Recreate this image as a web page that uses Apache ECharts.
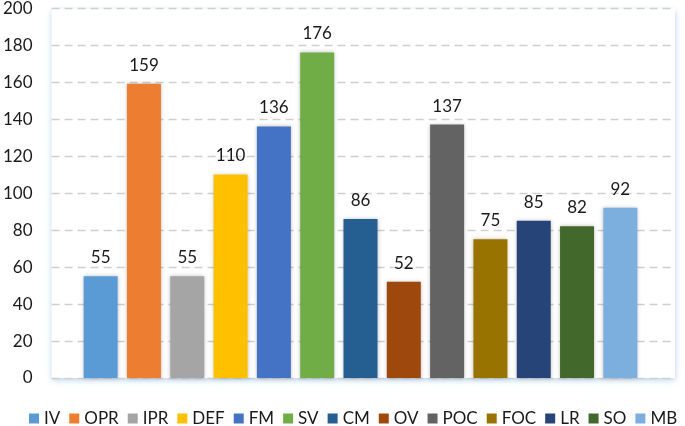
<!DOCTYPE html>
<html>
<head>
<meta charset="utf-8">
<style>
  html, body { margin: 0; padding: 0; background: #fff; }
  #chart { width: 685px; height: 426px; }
</style>
<script src="https://cdn.jsdelivr.net/npm/echarts@6/dist/echarts.min.js"></script>
</head>
<body>
<div id="chart"></div>
<script>
// categories and counts
const categories = ["IV", "OPR", "IPR", "DEF", "FM", "SV", "CM", "OV", "POC", "FOC", "LR", "SO", "MB"];
const values = [55, 159, 55, 110, 136, 176, 86, 52, 137, 75, 85, 82, 92];
const colors = ["#5b9bd5", "#ed7d31", "#a5a5a5", "#ffc000", "#4472c4", "#70ad47", "#255e91",
  "#9e480e", "#636363", "#997300", "#264478", "#43682b", "#7cafdd"];
const yTicks = { min: 0, max: 200, interval: 20 };

const font = "Lato, 'Open Sans', sans-serif";

// one series per category so each gets its own legend entry
const series = categories.map((name, i) => ({
  name: name,
  type: "bar",
  stack: "all",
  xAxisIndex: 1,
  yAxisIndex: 1,
  barWidth: 34,
  data: values.map((v, j) => (j === i ? v : "-")),
  itemStyle: {
    color: colors[i],
    shadowColor: "rgba(0,0,0,0.25)",
    shadowBlur: 4,
  },
  label: {
    show: true,
    position: "top",
    distance: 10,
    fontFamily: font,
    fontSize: 17,
    color: "#1a1a1a",
  },
}));

const chart = echarts.init(document.getElementById("chart"));
chart.setOption({
  animation: false,
  textStyle: { fontFamily: font },
  grid: [
    {
      left: 46, right: 10, top: 8, bottom: 48,
      show: true,
      backgroundColor: "#fff",
      borderColor: "transparent",
      shadowColor: "rgba(91,155,213,0.45)",
      shadowBlur: 6,
      shadowOffsetY: 2,
    },
    { left: 79, right: 43, top: 8, bottom: 48 },
  ],
  legend: {
    top: 410,
    left: 29,
    right: 0,
    padding: 0,
    itemWidth: 10,
    itemHeight: 10,
    itemGap: 9,
    icon: "rect",
    textStyle: { fontFamily: font, fontSize: 17, color: "#1a1a1a" },
    data: categories,
  },
  xAxis: [
    { type: "category", gridIndex: 0, data: categories, show: false },
    {
      type: "category", gridIndex: 1, data: categories,
      axisLine: { show: false }, axisTick: { show: false }, axisLabel: { show: false },
    },
  ],
  yAxis: [
    {
      type: "value", gridIndex: 0,
      min: yTicks.min, max: yTicks.max, interval: yTicks.interval,
      axisLine: { show: false }, axisTick: { show: false },
      axisLabel: { fontFamily: font, fontSize: 17, color: "#1a1a1a", margin: 19 },
      splitLine: { lineStyle: { color: "#d0d0d0", type: [8, 5], width: 1.3 } },
    },
    {
      type: "value", gridIndex: 1,
      min: yTicks.min, max: yTicks.max, interval: yTicks.interval,
      show: false, splitLine: { show: false },
    },
  ],
  series: series,
});
</script>
</body>
</html>
